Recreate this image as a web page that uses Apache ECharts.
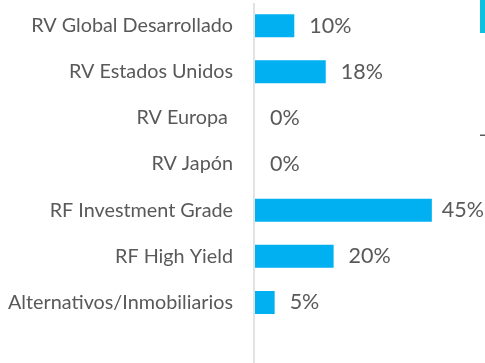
<!DOCTYPE html>
<html>
<head>
<meta charset="utf-8">
<script src="https://cdn.jsdelivr.net/npm/echarts@6/dist/echarts.min.js"></script>
<style>
  html, body { margin: 0; padding: 0; background: #fff; }
  #chart { width: 485px; height: 363px; }
</style>
</head>
<body>
<div id="chart"></div>
<script>
// Asset-class weights (%)
const categories = [
  'RV Global Desarrollado',
  'RV Estados Unidos',
  'RV Europa ',
  'RV Japón',
  'RF Investment Grade',
  'RF High Yield',
  'Alternativos/Inmobiliarios'
];
const weights = [10, 18, 0, 0, 45, 20, 5];

const FONT = 'Lato';
const TEXT = '#595959';
const BAR = '#00B0F0';

const chart = echarts.init(document.getElementById('chart'), null, { renderer: 'canvas' });

const seriesData = weights.map((v, i) => {
  const item = { value: v };
  // the widest bar keeps its label a little closer
  if (v === Math.max(...weights)) item.label = { distance: 10 };
  return item;
});

chart.setOption({
  animation: false,
  backgroundColor: '#ffffff',
  grid: { left: 255, top: 2.65, height: 322.9, width: 196.5, containLabel: false },
  xAxis: {
    type: 'value',
    min: 0,
    max: 50,
    show: false
  },
  yAxis: {
    type: 'category',
    data: categories,
    inverse: true,
    axisLine: { show: false },
    axisTick: { show: false },
    axisLabel: {
      margin: 22,
      color: TEXT,
      fontFamily: FONT,
      fontSize: 19.8
    }
  },
  series: [{
    type: 'bar',
    data: seriesData,
    barWidth: 23,
    itemStyle: { color: BAR },
    label: {
      show: true,
      position: 'right',
      distance: 15,
      color: TEXT,
      fontFamily: FONT,
      fontSize: 21.5,
      formatter: p => p.value + '%'
    }
  }],
  graphic: [
    // vertical baseline running the full height
    { type: 'line', shape: { x1: 254, y1: 3, x2: 254, y2: 363 },
      style: { stroke: '#d9d9d9', lineWidth: 1.5 }, silent: true },
    // edge of the neighbouring panel
    { type: 'rect', shape: { x: 480, y: 0, width: 5, height: 33 },
      style: { fill: '#0cc0df' }, silent: true },
    { type: 'rect', shape: { x: 480, y: 134.5, width: 5, height: 1.5 },
      style: { fill: '#595959' }, silent: true }
  ]
});
</script>
</body>
</html>
